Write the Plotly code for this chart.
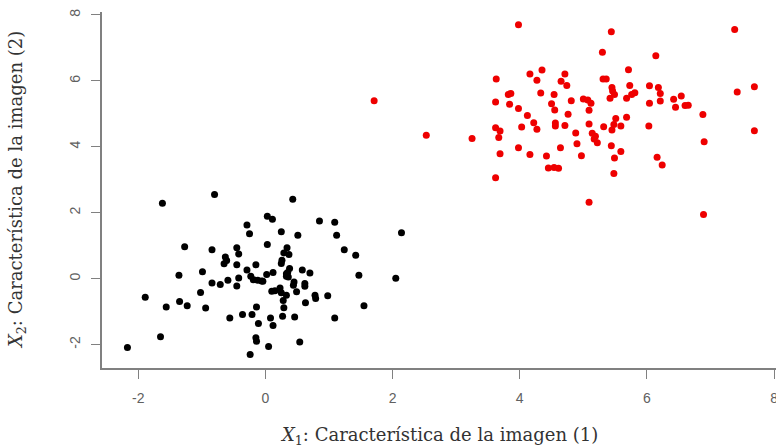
import plotly.graph_objects as go

# Class 1 (black)
x_black = [-2.17, -1.65, -1.89, -1.62, -0.80, 0.43, -1.56, -1.35, -1.23, -1.36, -1.27, -0.99,
           -1.02, -0.94, -0.84, -0.84, -0.71, -0.63, -0.65, -0.59, -0.56, -0.45, -0.42, -0.45,
           -0.45, -0.42, -0.36, -0.29, -0.25, -0.29, -0.23, -0.15, -0.19, -0.12, -0.21, -0.14,
           -0.11, -0.15, -0.14, -0.24, 0.05, 0.03, 0.11, 0.03, -0.04, 0.02, 0.12, 0.10,
           0.15, 0.08, 0.12, 0.25, 0.51, 0.34, 0.29, 0.37, 0.26, 0.25, 0.38, 0.35,
           0.33, 0.45, 0.23, 0.25, 0.33, 0.28, 0.29, 0.27, 0.46, 0.49, 0.54, 0.58,
           0.70, 0.62, 0.63, 0.78, 0.79, 0.85, 0.98, 1.09, 1.12, 1.24, 1.42, 1.47,
           1.09, 1.55, 2.14, 2.05, -0.06, 0.33, 0.44, 0.62, -0.61, 0.36]
y_black = [-2.09, -1.76, -0.56, 2.29, 2.55, 2.41, -0.86, -0.69, -0.82, 0.10, 0.97, 0.21,
           -0.42, -0.89, 0.88, -0.13, -0.18, 0.66, 0.45, -0.05, -1.19, 0.94, 0.75, 0.42,
           -0.22, 0.02, -1.09, 1.63, 1.36, 0.26, 0.07, 0.42, -0.03, -0.05, -1.09, -0.86,
           -1.36, -1.79, -1.90, -2.30, -2.06, 1.89, 1.80, 1.04, -0.08, 0.13, 0.19, -0.38,
           -0.37, -1.19, -1.42, 1.42, 1.32, 0.94, 0.78, 0.73, 0.56, 0.46, 0.31, 0.19,
           0.07, -0.10, -0.28, -0.43, -0.50, -0.66, -0.88, -1.14, -1.16, -0.40, -1.92, 0.26,
           0.17, -0.15, -0.73, -0.50, -0.60, 1.75, -0.52, 1.71, 1.32, 0.88, 0.71, 0.10,
           -1.19, -0.82, 1.39, 0.01, -0.07, 0.15, -0.20, -0.23, 0.55, 0.05]

# Class 2 (red)
x_red = [1.71, 2.53, 3.25, 3.98, 3.63, 3.62, 3.62, 3.69, 3.67, 3.69, 3.62, 3.82, 3.86, 3.84,
         3.98, 4.12, 4.03, 3.98, 4.16, 4.27, 4.35, 4.33, 4.22, 4.27, 4.16, 4.42, 4.45, 4.54,
         4.61, 4.64, 4.54, 4.50, 4.55, 4.56, 4.56, 4.71, 4.71, 4.65, 4.74, 4.76, 4.81, 4.88,
         4.90, 4.97, 5.09, 5.00, 5.07, 5.12, 5.09, 5.09, 5.14, 5.17, 5.22, 5.19, 5.30, 5.44,
         5.31, 5.36, 5.45, 5.46, 5.42, 5.49, 5.32, 5.45, 5.48, 5.51, 5.59, 5.68, 5.44, 5.59,
         5.49, 5.48, 5.71, 5.73, 5.68, 5.76, 5.81, 6.14, 6.04, 6.18, 6.21, 6.21, 6.04, 6.03,
         6.16, 6.24, 6.42, 6.45, 6.54, 6.60, 6.65, 6.88, 6.90, 6.89, 7.38, 7.42, 7.69, 7.69]
y_red = [5.40, 4.35, 4.25, 7.70, 6.06, 5.36, 4.58, 4.48, 4.28, 3.79, 3.06, 5.59, 5.62, 5.29,
         5.16, 4.95, 4.60, 3.97, 6.21, 6.02, 6.33, 5.63, 4.73, 4.53, 3.77, 3.72, 3.36, 3.37,
         3.35, 3.97, 5.59, 5.31, 5.12, 4.72, 4.63, 4.65, 6.21, 5.99, 5.86, 4.99, 5.40, 4.42,
         4.09, 3.73, 2.32, 5.45, 5.42, 5.32, 5.11, 4.69, 4.41, 4.24, 4.12, 4.32, 6.87, 7.49,
         6.06, 6.06, 5.80, 5.69, 5.47, 5.59, 4.61, 4.51, 4.68, 4.86, 4.63, 4.90, 4.03, 3.86,
         3.66, 3.19, 6.34, 5.86, 5.47, 5.59, 5.64, 6.76, 5.85, 5.80, 5.62, 5.39, 5.32, 4.63,
         3.68, 3.45, 5.44, 5.20, 5.54, 5.25, 5.26, 4.98, 4.15, 1.95, 7.56, 5.66, 5.82, 4.49]

x_ticks = [-2, 0, 2, 4, 6, 8]
y_ticks = [-2, 0, 2, 4, 6, 8]
x_title = "<i>X</i><sub>1</sub>: Característica de la imagen (1)"
y_title = "<i>X</i><sub>2</sub>: Característica de la imagen (2)"

fig = go.Figure()
fig.add_trace(go.Scatter(x=x_black, y=y_black, mode="markers",
                         marker=dict(color="black", size=7, line=dict(width=0)),
                         showlegend=False, cliponaxis=False))
fig.add_trace(go.Scatter(x=x_red, y=y_red, mode="markers",
                         marker=dict(color="#ee0000", size=7, line=dict(width=0)),
                         showlegend=False, cliponaxis=False))

axis_common = dict(showgrid=False, zeroline=False, showline=True, linecolor="#808080",
                   linewidth=1.5, ticks="outside", ticklen=9, tickwidth=1.2,
                   tickcolor="#808080", mirror=False, automargin=False,
                   ticklabeloverflow="allow",
                   tickfont=dict(family="Liberation Sans, Arial", size=14, color="#606060"))

fig.update_xaxes(range=[-2.57, 8.03], tickvals=x_ticks, ticktext=[str(v) for v in x_ticks],
                 ticklabelstandoff=7, **axis_common)
fig.update_yaxes(range=[-2.71, 8.09], tickvals=y_ticks, ticktext=[str(v) for v in y_ticks],
                 tickangle=-90, ticklabelstandoff=6, **axis_common)

title_font = dict(family="DejaVu Serif, Georgia, serif", size=18, color="#333333")
fig.add_annotation(text=x_title, xref="paper", yref="paper", x=0.5, y=-(436 - 368) / 356,
                   xanchor="center", yanchor="middle", showarrow=False, font=title_font)
fig.add_annotation(text=y_title, xref="paper", yref="paper", x=(17 - 102) / 674, y=0.5,
                   xanchor="center", yanchor="middle", textangle=-90, showarrow=False,
                   font=title_font)

fig.update_layout(width=776, height=448, margin=dict(l=102, r=0, t=12, b=80),
                  plot_bgcolor="white", paper_bgcolor="white")

fig.write_html("out.html", config={"displayModeBar": False},
               post_script="document.body.style.margin='0';document.body.style.overflow='hidden';")
